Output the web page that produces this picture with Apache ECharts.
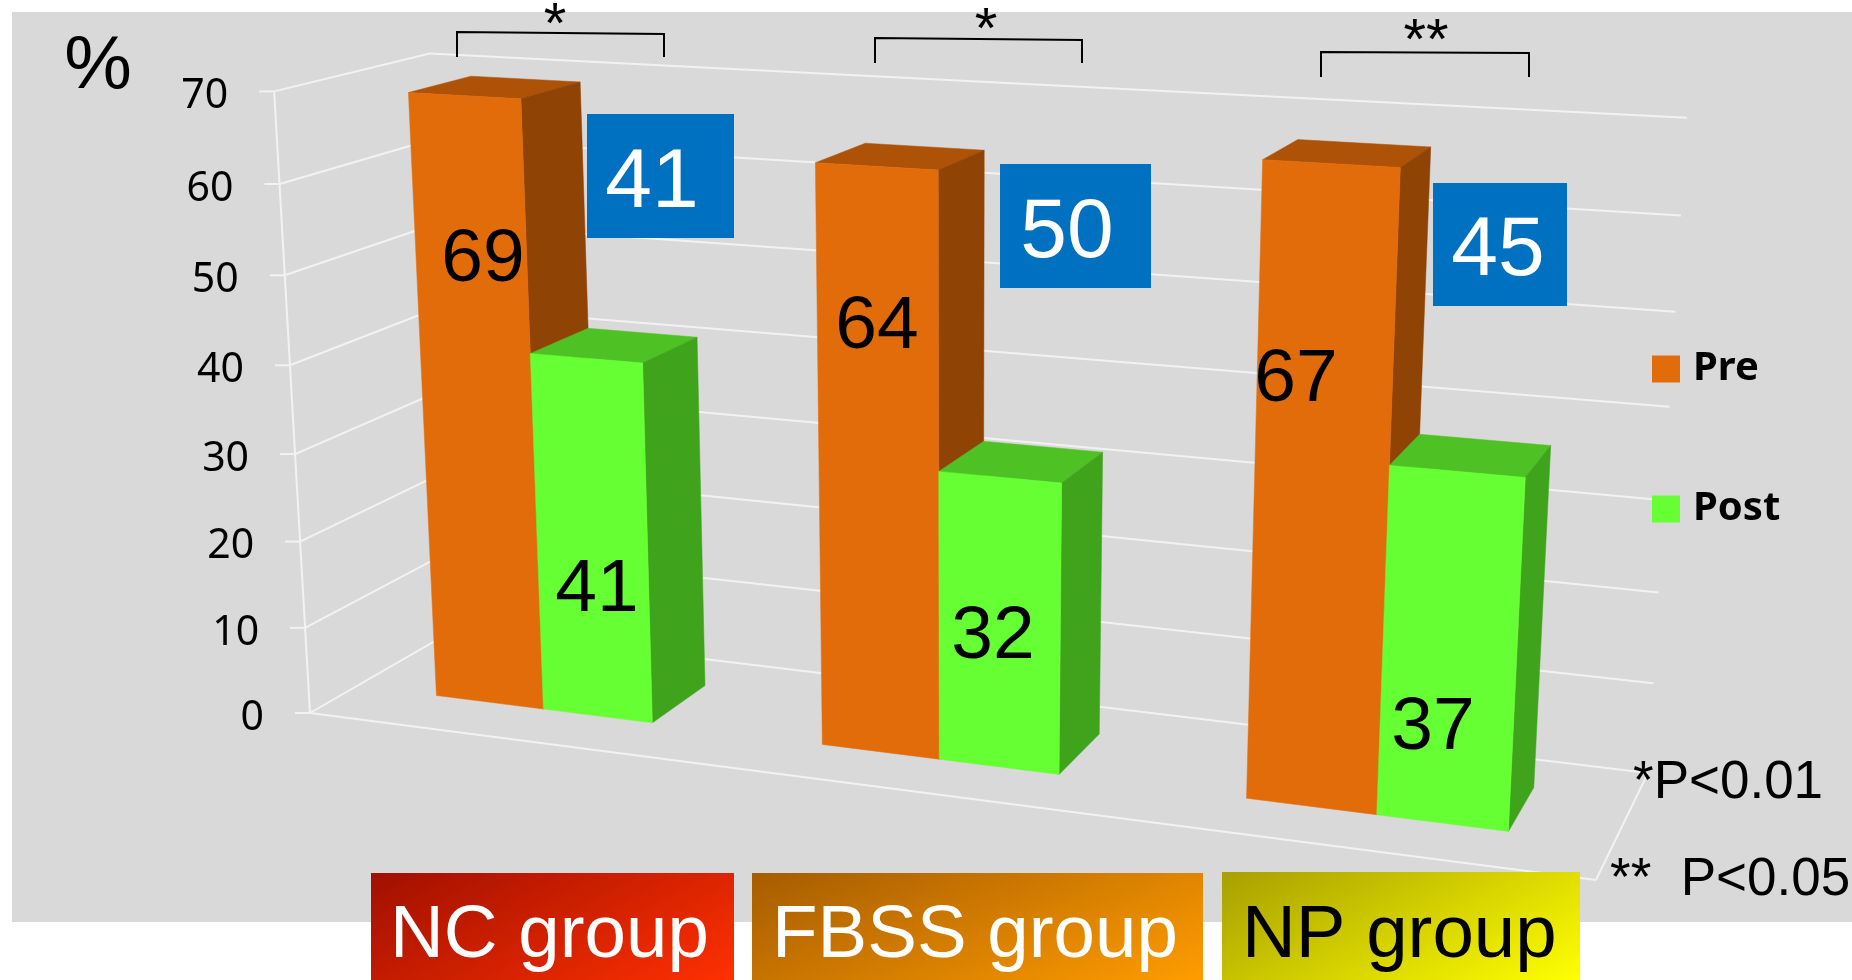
<!DOCTYPE html>
<html>
<head>
<meta charset="utf-8">
<title>Pre and post treatment by group</title>
<style>html,body{margin:0;padding:0;background:#fff}#chart{width:1852px;height:980px}</style>
<script src="https://cdn.jsdelivr.net/npm/echarts@6/dist/echarts.min.js"></script>
</head>
<body>
<div id="chart"></div>
<script>
// Chart values
const categories = ['NC group', 'FBSS group', 'NP group'];
const preValues = [69, 64, 67];
const postValues = [41, 32, 37];
const changeValues = [41, 50, 45];
const tickValues = [0, 10, 20, 30, 40, 50, 60, 70];
const significance = ['*', '*', '**'];
const pNotes = ['*P<0.01', '**  P<0.05'];

// Colours of the three visible faces of a bar
const preFaces = { front: '#E36C0A', top: '#AD5206', side: '#8F4304' };
const postFaces = { front: '#66FF33', top: '#4EC224', side: '#3FA31C' };
const ARIAL = '"Liberation Sans", Arial, sans-serif';
const SANS = '"Noto Sans", sans-serif';

// Perspective camera: maps plane position u, depth d and height s (0..1) to the page
const cam = {
  a: 1121.9, b: 184, c: 310, d: 76.5, e: -31.6, f: 713,
  g: -0.1028, h: 0.08334, k: -0.048,
  ax0: -49, ax1: 6, ay0: -626, ay1: -22
};
function project(u, d, s) {
  const w = cam.g * u + cam.h * d + 1 + cam.k * s;
  return [
    (cam.a * u + cam.b * d + cam.c + (cam.ax0 + cam.ax1 * u) * s) / w,
    (cam.d * u + cam.e * d + cam.f + (cam.ay0 + cam.ay1 * u) * s) / w
  ];
}

// Bar footprints on the floor, in plane units, one entry per category
const barShifts = [-0.005, -0.0105, -0.006];
const preSpans = [0.0925, 0.0945, 0.098];
const postSpans = [0.0925, 0.095, 0.097];
const depthFront = 0.31, depthBack = 0.73;

// Turns a flat grid pixel into the plane fractions used by the camera
function planeOf(params, api, x, y) {
  const p = api.coord([x, y]);
  const cs = params.coordSys;
  return { u: (p[0] - cs.x) / cs.width, s: (cs.y + cs.height - p[1]) / cs.height };
}

function barRenderer(faces, side, spans, labelCentres) {
  return function (params, api) {
    const i = api.value(0), v = api.value(1);
    const q = planeOf(params, api, i, v);
    const centre = q.u + barShifts[i];
    const u0 = side < 0 ? centre - spans[i] : centre;
    const u1 = side < 0 ? centre : centre + spans[i];
    const s = q.s;
    const poly = (pts, fill) => ({
      type: 'polygon',
      shape: { points: pts },
      style: { fill: fill, stroke: fill, lineWidth: 0.5 }
    });
    const lc = labelCentres[i];
    return {
      type: 'group',
      children: [
        poly([project(u0, depthFront, s), project(u1, depthFront, s), project(u1, depthBack, s), project(u0, depthBack, s)], faces.top),
        poly([project(u1, depthFront, 0), project(u1, depthFront, s), project(u1, depthBack, s), project(u1, depthBack, 0)], faces.side),
        poly([project(u0, depthFront, 0), project(u1, depthFront, 0), project(u1, depthFront, s), project(u0, depthFront, s)], faces.front),
        {
          type: 'text',
          style: { text: String(v), x: lc[0], y: lc[1], fill: '#000', font: '75px ' + ARIAL, align: 'center', verticalAlign: 'middle' }
        }
      ]
    };
  };
}

// Value labels sit freely on the bars, not at a fixed height
const preLabelCentres = [[483, 260], [877, 327], [1296, 380]];
const postLabelCentres = [[597, 590], [993, 637], [1433, 728]];

const wallLine = { stroke: '#F2F2F2', lineWidth: 2 };
function segment(p, q) {
  return { type: 'line', shape: { x1: p[0], y1: p[1], x2: q[0], y2: q[1] }, style: wallLine };
}
function wallRenderer(params, api) {
  const t = api.value(1);
  const s = planeOf(params, api, 0, t).s;
  const front = project(0, 0, s), back = project(0, 1, s), right = project(1, 1, s);
  const children = [
    segment([front[0] - 15, front[1]], front),
    segment(front, back),
    segment(back, right),
    {
      type: 'text',
      style: { text: String(t), x: front[0] - 46, y: front[1] + 5, fill: '#000', font: '41px ' + SANS, align: 'right', verticalAlign: 'middle' }
    }
  ];
  if (t === 0) {
    children.push(segment(project(0, 0, 0), project(1, 0, 0)));
    children.push(segment(project(1, 0, 0), project(1, 1, 0)));
    children.push(segment(project(0, 0, 0), project(0, 0, 1)));
  }
  return { type: 'group', children: children };
}

// Page furniture: backdrop, change boxes, brackets, group banners
const changeBoxes = [[587, 114, 147, 124], [1000, 164, 151, 124], [1433, 183, 134, 123]];
const changeCentres = [[652, 184], [1067, 234], [1498, 252]];
const brackets = [
  [[457, 57], [457, 32], [664, 34], [664, 57]],
  [[875, 63], [875, 38], [1082, 40], [1082, 63]],
  [[1321, 77], [1321, 52], [1529, 53], [1529, 77]]
];
const starCentres = [[555, 27], [986, 32], [1426, 43]];
const banners = [
  { x: 371, w: 363, y: 873, h: 107, from: '#A01000', to: '#FF3000', ink: '#fff', tx: 390 },
  { x: 752, w: 451, y: 873, h: 107, from: '#A65C00', to: '#FF9C00', ink: '#fff', tx: 772 },
  { x: 1222, w: 358, y: 872, h: 108, from: '#A8A000', to: '#FFFF00', ink: '#000', tx: 1242 }
];
const noteAnchors = [[1633, 783], [1610, 880]];

// Banner gradient: mostly left to right with some downward drift
const gradientAcross = 0.65, gradientDown = 0.35;
function bannerFill(b) {
  const ax = gradientAcross / b.w, ay = gradientDown / b.h;
  const n = ax * ax + ay * ay;
  return new echarts.graphic.LinearGradient(0, 0, ax / n / b.w, ay / n / b.h, [
    { offset: 0, color: b.from }, { offset: 1, color: b.to }
  ]);
}

const graphics = [
  { type: 'rect', z: 0, shape: { x: 12, y: 12, width: 1840, height: 910 }, style: { fill: '#D9D9D9' } },
  { type: 'text', z: 50, style: { text: '%', x: 98, y: 67, fill: '#000', font: '76px ' + ARIAL, align: 'center', verticalAlign: 'middle' } }
];
changeValues.forEach((v, i) => {
  const b = changeBoxes[i], c = changeCentres[i];
  graphics.push({ type: 'rect', z: 50, shape: { x: b[0], y: b[1], width: b[2], height: b[3] }, style: { fill: '#0070C0' } });
  graphics.push({ type: 'text', z: 51, style: { text: String(v), x: c[0], y: c[1], fill: '#fff', font: '84px ' + ARIAL, align: 'center', verticalAlign: 'middle' } });
});
significance.forEach((mark, i) => {
  graphics.push({ type: 'polyline', z: 50, shape: { points: brackets[i] }, style: { stroke: '#000', lineWidth: 2, fill: null } });
  graphics.push({ type: 'text', z: 51, style: { text: mark, x: starCentres[i][0], y: starCentres[i][1], fill: '#000', font: '58px ' + ARIAL, align: 'center', verticalAlign: 'middle' } });
});
categories.forEach((name, i) => {
  const b = banners[i];
  graphics.push({ type: 'rect', z: 50, shape: { x: b.x, y: b.y, width: b.w, height: b.h }, style: { fill: bannerFill(b) } });
  graphics.push({ type: 'text', z: 51, style: { text: name, x: b.tx, y: 936, fill: b.ink, font: '74.5px ' + ARIAL, align: 'left', verticalAlign: 'middle' } });
});
pNotes.forEach((note, i) => {
  graphics.push({ type: 'text', z: 51, style: { text: note, x: noteAnchors[i][0], y: noteAnchors[i][1], fill: '#000', font: '53px ' + ARIAL, align: 'left', verticalAlign: 'middle' } });
});

const chart = echarts.init(document.getElementById('chart'));
chart.setOption({
  animation: false,
  backgroundColor: '#fff',
  // Flat reference plane: the axes supply the scales, the camera supplies the view
  grid: { left: 0, top: 0, width: 1000, height: 700, show: false },
  xAxis: { type: 'category', data: categories, show: false },
  yAxis: { type: 'value', min: 0, max: 70, interval: 10, show: false },
  legend: {
    orient: 'vertical', left: 1647, top: 344, icon: 'rect',
    itemWidth: 28, itemHeight: 27, itemGap: 100, selectedMode: false,
    data: ['Pre', 'Post'],
    textStyle: { fontFamily: SANS, fontWeight: 'bold', fontSize: 40, color: '#000', padding: [0, 0, 0, 8] }
  },
  graphic: { elements: graphics },
  series: [
    {
      type: 'custom', name: 'Walls', clip: false, silent: true, z: 1,
      data: tickValues.map(t => [0, t]), renderItem: wallRenderer
    },
    {
      type: 'custom', name: 'Pre', clip: false, z: 2,
      itemStyle: { color: preFaces.front },
      data: preValues.map((v, i) => [i, v]),
      renderItem: barRenderer(preFaces, -1, preSpans, preLabelCentres)
    },
    {
      type: 'custom', name: 'Post', clip: false, z: 3,
      itemStyle: { color: postFaces.front },
      data: postValues.map((v, i) => [i, v]),
      renderItem: barRenderer(postFaces, 1, postSpans, postLabelCentres)
    }
  ]
});
</script>
</body>
</html>
